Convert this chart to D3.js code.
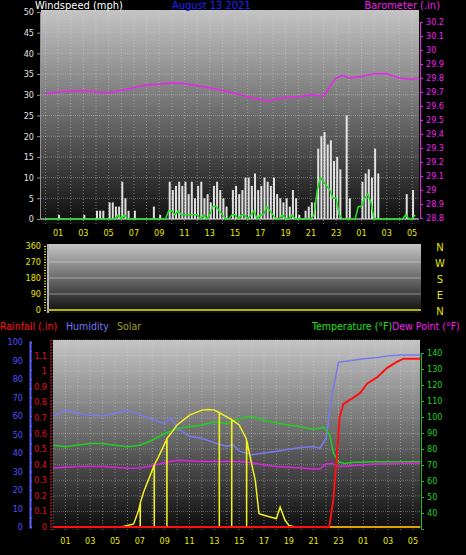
<!DOCTYPE html>
<html><head><meta charset="utf-8">
<script src="https://cdn.jsdelivr.net/npm/d3@7"></script>
<style>body{margin:0;background:#000}svg{display:block}text{font-family:"DejaVu Sans Condensed","DejaVu Sans",sans-serif}</style>
</head><body>
<script>
// hour labels (hours since midnight Aug 13)
var hourTicks = [1,3,5,7,9,11,13,15,17,19,21,23,25,27,29];
// wind, one value per quarter hour from 00:00
var gust = [0,0,0,0, 1,0,0,0, 0,0,0,0, 1,0,0,0, 2,2,2,0, 4,4,3,3, 9,5,2,0, 2,0,0,0,
  0,0,3,0, 1,0,0,9, 7,8,9,8, 9,6,9,5, 8,9,5,6, 4,8,9,7, 5,3,0,7, 8,6,7,10,
  10,8,11,7, 8,10,9,8, 10,6,5,4, 5,3,7,5, 1,0,2,3, 4,4,17,20, 21,18,19,14, 15,12,0,25,
  5,0,0,0, 9,11,12,10, 17,11,0,0, 0,0,0,0, 0,0,6,0, 7,0,8,0];
var windAvg = [0,0,0,0, 0,0,0,0, 0,0,0,0, 0,0,0,0, 0,0,0,0, 0,0,0,1, 0,1,0,0, 0,0,0,0,
  0,0,0,0, 0,0,0,2, 2,1,2,1, 1,1,1,1, 1,0,1,0, 1,3,3,2, 1,0,0,1, 1,0,1,1,
  0,1,2,0, 1,1,3,2, 1,0,0,1, 0,0,1,0, 0,0,0,0, 0,1,7,10, 9,8,7,5, 5,1,0,0,
  0,0,0,3, 3,5,6,4, 0,0,0,0, 0,0,0,0, 0,0,1,0, 0,1,1,0];
var baroT = [0,1,2,3,4,5,6,7,8,9,10,11,12,13,14,15,16,17,17.5,18,19,20,21,22,22.5,23,23.5,24,25,26,27,28,29,29.5];
var baro = [29.69,29.70,29.705,29.71,29.70,29.695,29.71,29.73,29.75,29.755,29.765,29.76,29.745,29.73,29.71,29.69,29.665,29.645,29.635,29.645,29.66,29.665,29.68,29.67,29.74,29.80,29.82,29.80,29.81,29.83,29.83,29.80,29.79,29.80];
var humT = [0,1,2,3,4,5,6,7,8,9,9.5,10,11,12,13,14,14.5,15,16,17,18,19,20,21,21.5,22,22.5,23,24,25,26,27,28,29.6];
var hum = [60,63,61.5,60.5,60,61.5,63,61,58,56,59,53.5,49,48,45.5,43.5,44.5,41,39,40,41,42,43,43.5,42.5,48,72,89,90,91,91.5,92.5,93,93];
var rainT = [0,22.25,22.3,22.6,22.85,23.1,23.4,24.2,24.75,25.3,26.1,26.9,27.7,28.25,29.6];
var rain = [0,0,0.02,0.19,0.43,0.71,0.79,0.83,0.86,0.92,0.96,1.02,1.06,1.08,1.08];
var tempT = [0,1,3,4,5,6,7,8,9,10,11,12,13,14,15,16,17,18,19,20,21,21.8,22.3,22.6,23,23.5,24,26,29.6];
var temp = [82.4,81.4,83.4,83.4,82.4,81.4,82.4,85.5,89.7,92.9,93.9,95,97,96,99,100.5,98,96.4,94.9,93.9,92.2,93.5,88.7,77.3,72,71,71.5,72,72];
var dewT = [0,2,4,6,7,8,9,10,12,13,15,16,17,18,20,21,21.5,22,22.5,23,24,26,29.6];
var dew = [68.1,69,69,68,68.1,69.5,71.6,73,72.2,72.2,72.2,71.6,70,69,68.1,67.5,67.5,70.6,71,69,69.5,70.6,71.2];
var solarT = [0,5.5,6,6.5,6.9,7.02,7.03,7.04,7.3,8,8.15,8.16,8.17,8.5,9,9.17,9.18,9.19,9.5,10,11,12,12.5,13,13.39,13.4,13.41,14,14.39,14.4,14.41,15,15.5,15.59,15.6,15.61,16,16.3,16.59,16.6,17,17.5,18,18.3,18.7,19,19.5,29.6];
var solar = [0,0,10,20,107,150,0,155,225,365,395,0,400,450,535,565,0,570,600,655,718,750,754,750,735,0,733,707,690,0,688,655,578,560,0,555,407,300,90,86,75,64,54,128,43,10,0,0];
var dirTicks = [0,90,180,270,360];
var compass = ["N","W","S","E","N"];

var W = 466, H = 555;
var svg = d3.select("body").append("svg").attr("width", W).attr("height", H);
var defs = svg.append("defs");
var g = defs.append("linearGradient").attr("id", "bg").attr("x1", 0).attr("x2", 0).attr("y1", 0).attr("y2", 1);
g.append("stop").attr("offset", 0).attr("stop-color", "#c4c4c4");
g.append("stop").attr("offset", 0.5).attr("stop-color", "#6a6a6a");
g.append("stop").attr("offset", 1).attr("stop-color", "#0c0c0c");
var ylw = "#e8e800";

function panel(x0, x1, y0, y1) {
  svg.append("rect").attr("x", x0).attr("y", y0).attr("width", x1 - x0).attr("height", y1 - y0).attr("fill", "url(#bg)");
}
function vgrid(x, y0, y1) {
  svg.append("g").selectAll("line").data(d3.range(0, 30)).join("line")
    .attr("x1", d => x(d)).attr("x2", d => x(d)).attr("y1", y0).attr("y2", y1)
    .attr("stroke", "#d8d8d8").attr("stroke-opacity", 0.45).attr("stroke-dasharray", "1,2");
}
function timeLabels(x, y) {
  svg.append("g").selectAll("text").data(hourTicks).join("text")
    .attr("x", d => x(d)).attr("y", y).attr("text-anchor", "middle").attr("fill", ylw)
    .attr("font-size", 9).text(d => d3.format("02")(d % 24));
}

// ---- top panel: wind + barometer
var x1 = d3.scaleLinear().domain([-0.35, 29.55]).range([41, 419]);
var yW = d3.scaleLinear().domain([0, 50]).range([219, 12]);
var yB = d3.scaleLinear().domain([28.8, 30.2]).range([218, 22]);
panel(41, 419, 10, 224);
vgrid(x1, 10, 224);
svg.append("g").selectAll("line").data(d3.range(0, 51, 5)).join("line")
  .attr("x1", 41).attr("x2", 419).attr("y1", d => yW(d)).attr("y2", d => yW(d))
  .attr("stroke", "#d0d0d0").attr("stroke-opacity", 0.4).attr("stroke-dasharray", "1,1");
svg.append("g").selectAll("rect").data(gust.slice(0, 118)).join("rect")
  .attr("x", (d, i) => x1(i * 0.25)).attr("width", 2)
  .attr("y", d => yW(d)).attr("height", d => yW(0) - yW(d))
  .attr("fill", "#f4f4f4").attr("opacity", 0.9);
svg.append("line").attr("x1", 41).attr("x2", 419).attr("y1", yW(0)).attr("y2", yW(0)).attr("stroke", "#e0e0e0");
svg.append("path").datum(windAvg.slice(0, 118)).attr("fill", "none").attr("stroke", "#20e020").attr("stroke-width", 1.5)
  .attr("d", d3.line().x((d, i) => x1(i * 0.25)).y(d => yW(d)));
svg.append("path").datum(baroT).attr("fill", "none").attr("stroke", "#f020f0").attr("stroke-width", 1.5)
  .attr("d", d3.line().x(d => x1(d)).y((d, i) => yB(baro[i])));
svg.append("g").attr("transform", "translate(40,0)").call(d3.axisLeft(yW).tickValues(d3.range(0, 51, 5)).tickSize(3))
  .call(a => { a.select(".domain").attr("stroke", "#909090"); a.selectAll("line").attr("stroke", "#909090");
    a.selectAll("text").attr("fill", "#e0e0e0").attr("font-size", 9); });
svg.append("g").attr("transform", "translate(420,0)").call(d3.axisRight(yB).tickValues(d3.range(28.8, 30.21, 0.1)).tickSize(3))
  .call(a => { a.select(".domain").attr("stroke", "#f020f0"); a.selectAll("line").attr("stroke", "#f020f0");
    a.selectAll("text").attr("fill", "#f020f0").attr("font-size", 9).text(d => +d.toFixed(1)); });
timeLabels(x1, 236);
svg.append("text").attr("x", 35).attr("y", 9).attr("fill", "#fff").attr("font-size", 11).text("Windspeed (mph)");
svg.append("text").attr("x", 172).attr("y", 9).attr("fill", "#2020ff").attr("font-size", 11).text("August 13 2021");
svg.append("text").attr("x", 440).attr("y", 9).attr("text-anchor", "end").attr("fill", "#f020f0").attr("font-size", 11).text("Barometer (.in)");

// ---- middle panel: wind direction
var yD = d3.scaleLinear().domain([0, 360]).range([310, 246]);
panel(48, 421, 244, 313);
svg.append("g").selectAll("line").data([90, 180, 270]).join("line")
  .attr("x1", 48).attr("x2", 421).attr("y1", d => yD(d)).attr("y2", d => yD(d))
  .attr("stroke", "#e0e0e0").attr("stroke-opacity", 0.5);
svg.append("line").attr("x1", 48).attr("x2", 421).attr("y1", yD(0)).attr("y2", yD(0)).attr("stroke", ylw).attr("stroke-width", 1.5);
svg.append("rect").attr("x", 47).attr("y", 244).attr("width", 2).attr("height", 69).attr("fill", "#b0b0b0");
svg.append("g").attr("transform", "translate(46,0)").call(d3.axisLeft(yD).tickValues(d3.range(0, 361, 15)).tickSize(2).tickFormat(""))
  .call(a => { a.select(".domain").remove(); a.selectAll("line").attr("stroke", ylw); });
svg.append("g").selectAll("text").data(dirTicks).join("text")
  .attr("x", 41).attr("y", d => yD(d) + 3).attr("text-anchor", "end").attr("fill", ylw).attr("font-size", 9).text(d => d);
svg.append("g").selectAll("text").data(compass).join("text")
  .attr("x", 440).attr("y", (d, i) => yD(dirTicks[4 - i]) + 5).attr("text-anchor", "middle")
  .attr("fill", ylw).attr("font-size", 11).text(d => d);

// ---- bottom panel
var x3 = d3.scaleLinear().domain([0, 29.57]).range([53, 420]);
var yH = d3.scaleLinear().domain([0, 100]).range([527, 342]);
var yR = d3.scaleLinear().domain([0, 1.2]).range([527, 340]);
var yT = d3.scaleLinear().domain([30, 140]).range([529, 353]);
var yS = d3.scaleLinear().domain([0, 1200]).range([527, 340]);
panel(53, 420, 340, 530);
vgrid(x3, 340, 530);
svg.append("g").selectAll("line").data(d3.range(0.1, 1.21, 0.1)).join("line")
  .attr("x1", 53).attr("x2", 420).attr("y1", d => yR(d)).attr("y2", d => yR(d))
  .attr("stroke", "#d0d0d0").attr("stroke-opacity", 0.35).attr("stroke-dasharray", "1,1");
function ln(ts, vs, xs, ys, col, w) {
  svg.append("path").datum(ts).attr("fill", "none").attr("stroke", col).attr("stroke-width", w || 1.5)
    .attr("d", d3.line().x(d => xs(d)).y((d, i) => ys(vs[i])));
}
ln(humT, hum, x3, yH, "#7878f0");
ln(tempT, temp, x3, yT, "#20d020");
ln(dewT, dew, x3, yT, "#e020e0");
ln(solarT, solar, x3, yS, "#f0f020");
svg.append("line").attr("x1", 53).attr("x2", 420).attr("y1", yS(0)).attr("y2", yS(0)).attr("stroke", "#e0a000").attr("stroke-width", 2);
ln(rainT, rain, x3, yR, "#ff1010", 2);
// left axes
svg.append("g").attr("transform", "translate(30,0)").call(d3.axisRight(yH).ticks(20).tickSize(2).tickFormat(""))
  .call(a => { a.select(".domain").attr("stroke", "#6060ff").attr("stroke-width", 2); a.selectAll("line").attr("stroke", "#6060ff"); });
svg.append("g").selectAll("text").data(d3.range(0, 101, 10)).join("text")
  .attr("x", 23).attr("y", d => yH(d) + 3).attr("text-anchor", "end").attr("fill", "#5050ff").attr("font-size", 9).text(d => d);
svg.append("g").selectAll("text").data(d3.range(0, 12)).join("text")
  .attr("x", 47).attr("y", d => yR(d / 10) + 3).attr("text-anchor", "end").attr("fill", "#e01010").attr("font-size", 9)
  .text(d => d === 0 ? "0" : d === 10 ? "1" : d === 11 ? "1.1" : "0." + d);
svg.append("line").attr("x1", 51).attr("x2", 51).attr("y1", 340).attr("y2", 530).attr("stroke", "#ff2020").attr("stroke-dasharray", "2,1");
svg.append("g").attr("transform", "translate(421,0)").call(d3.axisRight(yT).tickValues(d3.range(40, 141, 10)).tickSize(3))
  .call(a => { a.select(".domain").attr("stroke", "#20c020"); a.selectAll("line").attr("stroke", "#20c020");
    a.selectAll("text").attr("fill", "#20d020").attr("font-size", 9); });
timeLabels(x3, 544);
svg.append("text").attr("x", 0).attr("y", 330).attr("fill", "#ff1010").attr("font-size", 10.5).text("Rainfall (.in)");
svg.append("text").attr("x", 66).attr("y", 330).attr("fill", "#7878f0").attr("font-size", 10.5).text("Humidity");
svg.append("text").attr("x", 117).attr("y", 330).attr("fill", "#a0a020").attr("font-size", 10.5).text("Solar");
svg.append("text").attr("x", 312).attr("y", 330).attr("fill", "#20e020").attr("font-size", 10.5).text("Temperature (°F)");
svg.append("text").attr("x", 392).attr("y", 330).attr("fill", "#f020f0").attr("font-size", 10.5).text("Dew Point (°F)");
</script>
</body></html>
